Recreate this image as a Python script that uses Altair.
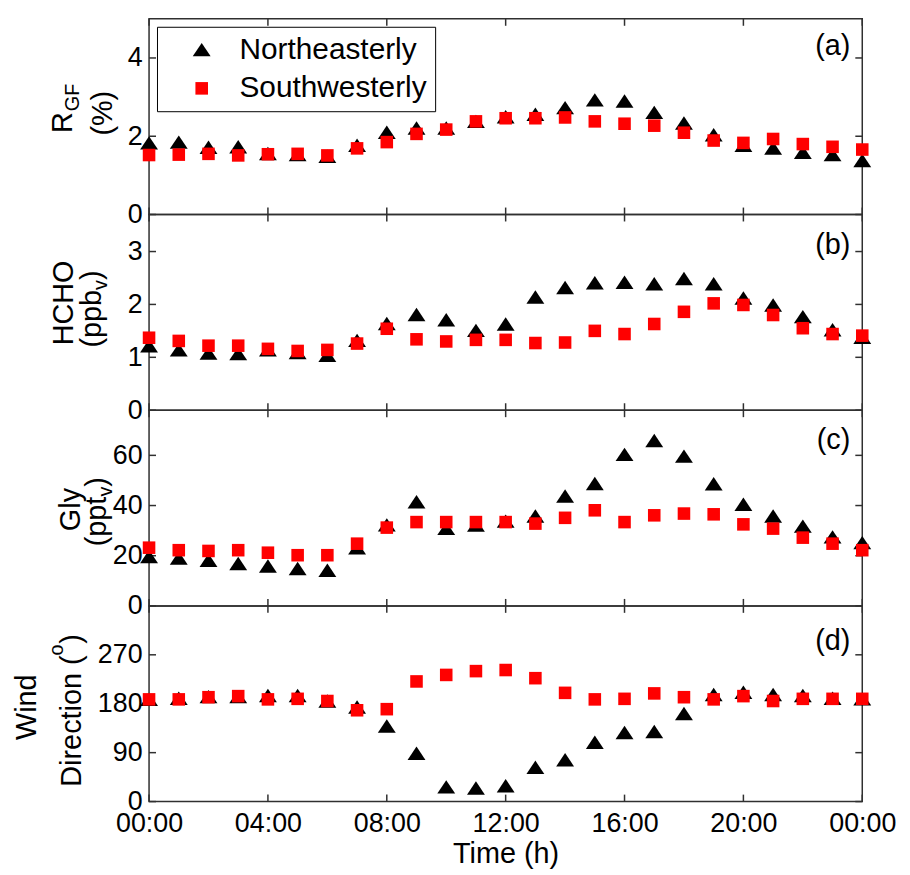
import json
import altair as alt
import pandas as pd

# ---------------- data ----------------
hours = list(range(25))
series_names = ["Northeasterly", "Southwesterly"]

ne_rgf = [1.83, 1.85, 1.72, 1.73, 1.56, 1.53, 1.49, 1.77, 2.10, 2.21, 2.21, 2.38, 2.50,
          2.56, 2.73, 2.93, 2.90, 2.61, 2.34, 2.04, 1.77, 1.70, 1.59, 1.53, 1.38]
sw_rgf = [1.52, 1.53, 1.55, 1.51, 1.54, 1.55, 1.51, 1.69, 1.85, 2.06, 2.17, 2.38, 2.46,
          2.46, 2.48, 2.38, 2.32, 2.27, 2.09, 1.89, 1.83, 1.93, 1.80, 1.73, 1.66]

ne_hcho = [1.22, 1.14, 1.08, 1.07, 1.14, 1.09, 1.04, 1.32, 1.64, 1.81, 1.71, 1.51, 1.63,
           2.14, 2.32, 2.41, 2.42, 2.39, 2.49, 2.39, 2.12, 1.99, 1.77, 1.52, 1.38]
sw_hcho = [1.37, 1.31, 1.22, 1.22, 1.16, 1.12, 1.14, 1.26, 1.54, 1.34, 1.30, 1.33, 1.33,
           1.27, 1.28, 1.50, 1.44, 1.63, 1.86, 2.02, 1.99, 1.80, 1.55, 1.44, 1.41]

ne_gly = [19.7, 19.1, 18.2, 16.9, 15.9, 14.9, 14.2, 23.2, 32.3, 41.5, 30.9, 32.2, 33.8,
          35.8, 43.8, 48.8, 60.4, 65.9, 59.7, 48.7, 40.5, 35.8, 31.8, 27.5, 25.2]
sw_gly = [23.2, 22.2, 21.9, 22.2, 21.2, 20.2, 20.2, 24.8, 31.2, 33.4, 33.4, 33.4, 33.4,
          32.8, 35.1, 38.1, 33.4, 36.1, 36.8, 36.5, 32.5, 30.8, 27.2, 24.8, 22.2]

ne_wd = [188, 190, 193, 193, 195, 195, 185, 174, 139, 89, 27, 25, 29,
         63, 77, 109, 127, 129, 162, 197, 201, 197, 195, 190, 189]
sw_wd = [188, 188, 192, 194, 188, 189, 185, 168, 170, 221, 233, 240, 242,
         227, 200, 188, 189, 199, 192, 188, 194, 185, 189, 189, 189]

x_ticks = [0, 4, 8, 12, 16, 20, 24]
x_tick_labels = ["00:00", "04:00", "08:00", "12:00", "16:00", "20:00", "00:00"]
x_title = "Time (h)"

rgf_ticks = [0, 2, 4]
hcho_ticks = [0, 1, 2, 3]
gly_ticks = [0, 20, 40, 60]
wd_ticks = [0, 90, 180, 270]

rgf_domain = [0, 5]
hcho_domain = [0, 3.7]
gly_domain = [0, 78]
wd_domain = [0, 360]

panel_tags = ["(a)", "(b)", "(c)", "(d)"]
rgf_title = ["R", "GF", "(%)"]
hcho_title = ["HCHO", "(ppb", "v", ")"]
gly_title = ["Gly", "(ppt", "v", ")"]
wd_title = ["Wind", "Direction (", "o", ")"]

# ---------------- layout / style ----------------
W, H = 718, 197
FONT = "Liberation Sans"
BIG = 29
SMALL = 20
TICK_FONT = 27
FRAME = "#303030"
TRI = "M0,-0.75L1,0.75L-1,0.75Z"

xs = alt.Scale(domain=[0, 24], nice=False, zero=False)
label_expr = json.dumps(x_tick_labels) + "[round(datum.value / 4)]"


def txt(text, x, y, size, align="left", angle=270, baseline="alphabetic"):
    return alt.Chart(pd.DataFrame({"t": [text]})).mark_text(
        angle=angle, align=align, baseline=baseline, font=FONT,
        fontSize=size, color="black"
    ).encode(x=alt.value(x), y=alt.value(y), text="t:N")


def panel(ne, sw, ticks, domain, title_marks, tag, tag_y, show_legend, show_x):
    df = pd.DataFrame({
        "hour": hours + hours,
        "value": ne + sw,
        "wind": [series_names[0]] * len(ne) + [series_names[1]] * len(sw),
        "ord": [0] * len(ne) + [1] * len(sw),
    })
    ys = alt.Scale(domain=domain, nice=False, zero=True)
    y_axis = alt.Axis(values=ticks, title=None, labelFlush=False, labelOverlap=False,
                      labelPadding=7, tickSize=0, ticks=False, domain=False, grid=False)
    if show_x:
        x_axis = alt.Axis(values=x_ticks, labelExpr=label_expr, title=x_title,
                          labelFlush=False, labelOverlap=False, labelPadding=9,
                          titlePadding=3, tickSize=0, ticks=False, domain=False, grid=False)
    else:
        x_axis = None

    if show_legend:
        leg = alt.Legend(orient="top-left", offset=8, padding=8, title=None,
                         strokeColor="black", fillColor="white",
                         labelFont=FONT, labelFontSize=30, labelColor="black",
                         labelLimit=400,
                         symbolOffset=22, labelOffset=23, rowPadding=9,
                         symbolStrokeWidth=0)
    else:
        leg = None

    pts = alt.Chart(df).mark_point(filled=True, opacity=1, strokeWidth=0).encode(
        x=alt.X("hour:Q", scale=xs, axis=x_axis),
        y=alt.Y("value:Q", scale=ys, axis=y_axis),
        color=alt.Color("wind:N", scale=alt.Scale(domain=series_names, range=["#000000", "#ff0000"]), legend=leg),
        shape=alt.Shape("wind:N", scale=alt.Scale(domain=series_names, range=[TRI, "square"]), legend=leg),
        size=alt.Size("wind:N", scale=alt.Scale(domain=series_names, range=[324, 160]), legend=leg),
        order=alt.Order("ord:Q"),
    )

    xt = pd.DataFrame({"hour": x_ticks})
    yt = pd.DataFrame({"value": ticks})
    rule = dict(color=FRAME, strokeWidth=1.5)
    xb = alt.Chart(xt).mark_rule(**rule).encode(
        x=alt.X("hour:Q", scale=xs, axis=x_axis), y=alt.value(H), y2=alt.value(H - 7))
    xtp = alt.Chart(xt).mark_rule(**rule).encode(
        x=alt.X("hour:Q", scale=xs, axis=x_axis), y=alt.value(0), y2=alt.value(7))
    yl = alt.Chart(yt).mark_rule(**rule).encode(
        y=alt.Y("value:Q", scale=ys, axis=y_axis), x=alt.value(0), x2=alt.value(7))
    yr = alt.Chart(yt).mark_rule(**rule).encode(
        y=alt.Y("value:Q", scale=ys, axis=y_axis), x=alt.value(W), x2=alt.value(W - 7))

    tag_mark = txt(tag, W - 12, tag_y, BIG, align="right", angle=0, baseline="middle")

    return alt.layer(xb, xtp, yl, yr, pts, tag_mark, *title_marks).properties(width=W, height=H)


a_titles = [
    txt(rgf_title[0], -78, 115, BIG),
    txt(rgf_title[1], -71, 93, SMALL),
    txt(rgf_title[2], -37, 95, BIG, align="center"),
]
b_titles = [
    txt(hcho_title[0], -77, 89, BIG, align="center"),
    txt(hcho_title[1], -48, 134, BIG),
    txt(hcho_title[2], -42, 76, SMALL),
    txt(hcho_title[3], -48, 66, BIG),
]
c_titles = [
    txt(gly_title[0], -70, 100, BIG, align="center"),
    txt(gly_title[1], -43, 137, BIG),
    txt(gly_title[2], -37, 87, SMALL),
    txt(gly_title[3], -43, 77, BIG),
]
d_titles = [
    txt(wd_title[0], -114, 102, BIG, align="center"),
    txt(wd_title[1], -69, 182, BIG),
    txt(wd_title[2], -87, 50, SMALL),
    txt(wd_title[3], -69, 38, BIG),
]

pa = panel(ne_rgf, sw_rgf, rgf_ticks, rgf_domain, a_titles, panel_tags[0], 27, True, False)
pb = panel(ne_hcho, sw_hcho, hcho_ticks, hcho_domain, b_titles, panel_tags[1], 31, False, False)
pc = panel(ne_gly, sw_gly, gly_ticks, gly_domain, c_titles, panel_tags[2], 30, False, False)
pd_ = panel(ne_wd, sw_wd, wd_ticks, wd_domain, d_titles, panel_tags[3], 35, False, True)

chart = alt.vconcat(pa, pb, pc, pd_, spacing=0, bounds="flush").resolve_scale(
    y="independent", color="independent", shape="independent", size="independent"
).resolve_legend(color="independent", shape="independent", size="independent").properties(
    padding={"left": 4, "top": 6, "right": 5, "bottom": 0}
).configure_view(stroke=FRAME, strokeWidth=1.5).configure_axis(
    labelFont=FONT, labelFontSize=TICK_FONT, labelColor="black",
    titleFont=FONT, titleFontSize=BIG, titleColor="black", titleFontWeight="normal"
).configure_concat(spacing=0)

chart.save("out.html", embed_options={"renderer": "svg", "actions": False})
